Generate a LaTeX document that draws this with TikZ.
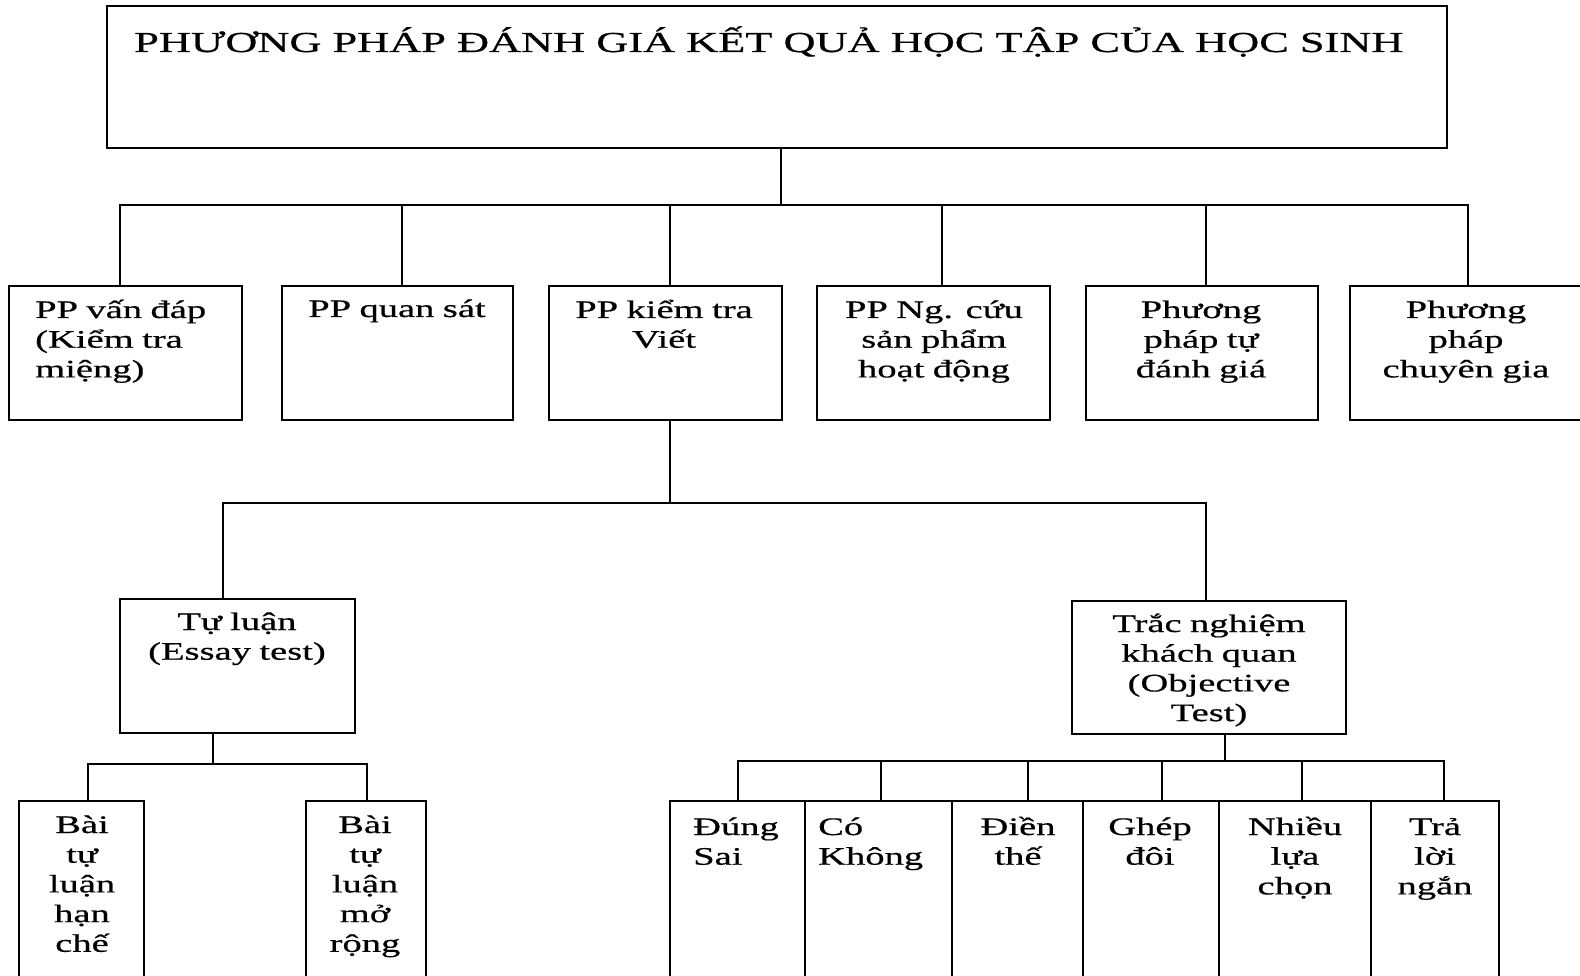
\documentclass[tikz,border=0pt]{standalone}
\usepackage{fontspec}
\setmainfont{Liberation Serif}[FakeStretch=1.53, FakeBold=0.6]
\usetikzlibrary{positioning}

\tikzset{
  box/.style={draw, line width=1.8pt, inner sep=0pt},
  lbl/.style={inner sep=0pt, text width=230pt, align=center, anchor=base,
    font=\fontsize{25.2}{29.7}\selectfont},
  lblleft/.style={lbl, align=left, anchor=base west},
}

\begin{document}
\begin{tikzpicture}[x=1pt, y=-1pt]
        \useasboundingbox (0,0) rectangle (1580,976);
        \clip (0,0) rectangle (1580,976);

        % title
        \node[box, minimum width=1340, minimum height=142] (title) at (777,77) {};
        \node[inner sep=0pt, anchor=base west, font=\fontsize{29}{34}\selectfont]
            (titletxt) at (134,52) {PHƯƠNG PHÁP ĐÁNH GIÁ KẾT QUẢ HỌC TẬP CỦA HỌC SINH};

        % first row
        \node[box, minimum width=233, minimum height=134] (vd) at (125.5,353) {};
        \node[box, minimum width=231, minimum height=134] (qs) at (397.5,353) {};
        \node[box, minimum width=233, minimum height=134] (kt) at (665.5,353) {};
        \node[box, minimum width=233, minimum height=134] (nc) at (933.5,353) {};
        \node[box, minimum width=232, minimum height=134] (td) at (1202,353) {};
        \node[box, minimum width=240, minimum height=134] (cg) at (1470,353) {};

        \node[lblleft] (vdtxt) at (35,318) {PP vấn đáp\\(Kiểm tra\\miệng)};
        \node[lbl] (qstxt) at (397,317) {PP quan sát};
        \node[lbl] (kttxt) at (664,318) {PP kiểm tra\\Viết};
        \node[lbl] (nctxt) at (934,318) {PP Ng. cứu\\sản phẩm\\hoạt động};
        \node[lbl] (tdtxt) at (1201,318) {Phương\\pháp tự\\đánh giá};
        \node[lbl] (cgtxt) at (1466,318) {Phương\\pháp\\chuyên gia};

        \draw[line width=1.8pt] ([xshift=4pt]title.south) -- ++(0,56) coordinate (tbar);
        \foreach \n/\dx in {vd/-5.5, qs/4.5, kt/4.5, nc/8.5, td/4, cg/-2}
            \draw[line width=1.8pt] ([xshift=\dx pt]\n.north) |- (tbar);

        % second row
        \node[box, minimum width=235, minimum height=134] (tl) at (237.5,666) {};
        \node[box, minimum width=274, minimum height=133] (tn) at (1209,667.5) {};

        \node[lbl] (tltxt) at (237,630) {Tự luận\\(Essay test)};
        \node[lbl] (tntxt) at (1209,632) {Trắc nghiệm\\khách quan\\(Objective\\Test)};

        \draw[line width=1.8pt] ([xshift=4.5pt]kt.south) -- ++(0,82) coordinate (ktbar);
        \draw[line width=1.8pt] ([xshift=-14.5pt]tl.north) |- (ktbar);
        \draw[line width=1.8pt] ([xshift=-3pt]tn.north) |- (ktbar);

        % third row, essay
        \node[box, minimum width=125, minimum height=199] (bh) at (81.5,900.5) {};
        \node[box, minimum width=120, minimum height=199] (bm) at (366,900.5) {};

        \node[lbl] (bhtxt) at (82,833) {Bài\\tự\\luận\\hạn\\chế};
        \node[lbl] (bmtxt) at (365,833) {Bài\\tự\\luận\\mở\\rộng};

        \draw[line width=1.8pt] ([xshift=-24.5pt]tl.south) -- ++(0,30) coordinate (tlbar);
        \foreach \n/\dx in {bh/6.5, bm/1}
            \draw[line width=1.8pt] ([xshift=\dx pt]\n.north) |- (tlbar);

        % third row, objective
        \node[box, minimum width=135, minimum height=199] (ds) at (737.5,900.5) {};
        \node[box, minimum width=147, minimum height=199] (ck) at (878.5,900.5) {};
        \node[box, minimum width=131, minimum height=199] (dt) at (1017.5,900.5) {};
        \node[box, minimum width=136, minimum height=199] (gd) at (1151,900.5) {};
        \node[box, minimum width=152, minimum height=199] (nl) at (1295,900.5) {};
        \node[box, minimum width=128, minimum height=199] (tr) at (1435,900.5) {};

        \node[lblleft] (dstxt) at (693,835) {Đúng\\Sai};
        \node[lblleft] (cktxt) at (818,835) {Có\\Không};
        \node[lbl] (dttxt) at (1018,835) {Điền\\thế};
        \node[lbl] (gdtxt) at (1150,835) {Ghép\\đôi};
        \node[lbl] (nltxt) at (1295,835) {Nhiều\\lựa\\chọn};
        \node[lbl] (trtxt) at (1435,835) {Trả\\lời\\ngắn};

        \draw[line width=1.8pt] ([xshift=16pt]tn.south) -- ++(0,26) coordinate (tnbar);
        \foreach \n/\dx in {ds/0.5, ck/2.5, dt/10.5, gd/11, nl/7, tr/9}
            \draw[line width=1.8pt] ([xshift=\dx pt]\n.north) |- (tnbar);

\end{tikzpicture}
\end{document}
